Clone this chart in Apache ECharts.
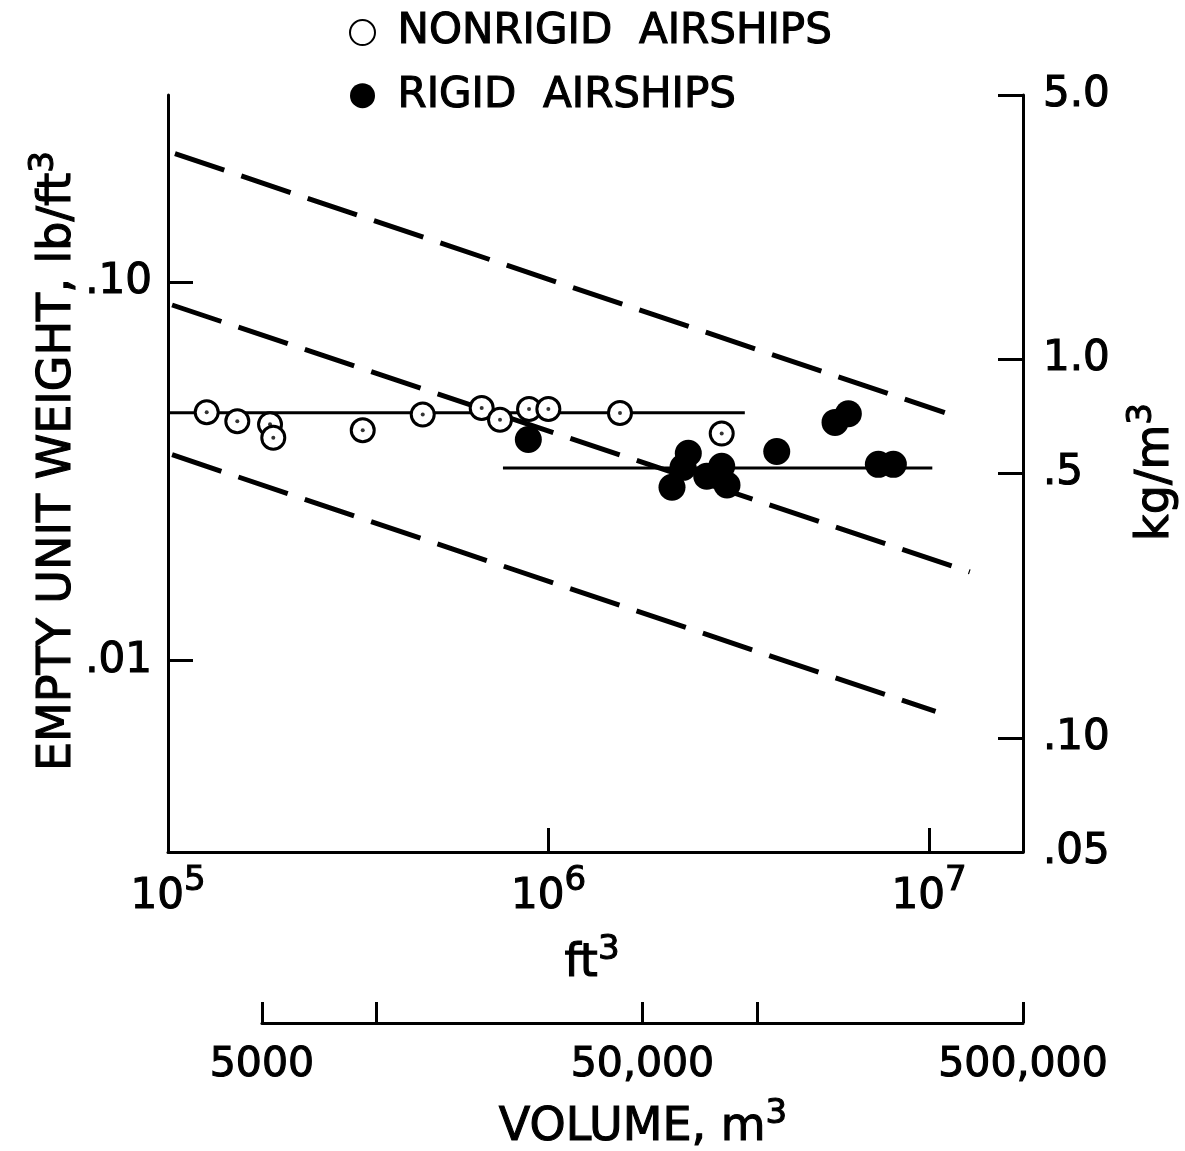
<!DOCTYPE html>
<html><head><meta charset="utf-8">
<script src="https://cdn.jsdelivr.net/npm/echarts@6/dist/echarts.min.js"></script>
<style>html,body{margin:0;padding:0;background:#fff}#c{width:1185px;height:1151px}</style>
</head><body><div id="c"></div>
<script>
// unit conversions
const LB_FT3_TO_KG_M3 = 16.01846;
const FT3_PER_M3 = 35.3147;

// nonrigid airships: volume (ft^3), empty unit weight (lb/ft^3)
const nonrigidVolume = [1.264e5, 1.521e5, 1.854e5, 1.891e5, 3.249e5, 4.671e5, 6.674e5, 7.456e5, 8.888e5, 9.99e5, 1.541e6, 2.852e6];
const nonrigidWeight = [0.0453, 0.0429, 0.0421, 0.0388, 0.0406, 0.0447, 0.0465, 0.0433, 0.0462, 0.0462, 0.0451, 0.0398];
// rigid airships
const rigidVolume = [8.85e5, 2.111e6, 2.257e6, 2.33e6, 2.605e6, 2.852e6, 2.945e6, 3.979e6, 5.662e6, 6.137e6, 7.359e6, 8.058e6];
const rigidWeight = [0.0384, 0.0287, 0.0324, 0.0353, 0.0307, 0.0326, 0.0291, 0.0357, 0.0426, 0.0449, 0.0330, 0.0330];

// mean lines
const nonrigidFitVolume = [1e5, 3.28e6];
const nonrigidFitWeight = [0.0452, 0.0452];
const rigidFitVolume = [7.59e5, 1.02e7];
const rigidFitWeight = [0.0323, 0.0323];

// dashed reference lines
const upperLineVolume = [1.043e5, 1.10e7];
const upperLineWeight = [0.2185, 0.0452];
const middleLineVolume = [1.025e5, 1.28e7];
const middleLineWeight = [0.0870, 0.01715];
const lowerLineVolume = [1.025e5, 1.04e7];
const lowerLineWeight = [0.0350, 0.00734];

// ticks and labels
const ftTicks = [1e5, 1e6, 1e7];
const ftTickExponents = ['5', '6', '7'];
const lbTicks = [0.01, 0.1];
const lbTickLabels = ['.01', '.10'];
const kgTicks = [0.05, 0.1, 0.5, 1, 5];
const kgTickLabels = ['.05', '.10', '.5', '1.0', '5.0'];
const m3Ticks = [5000, 10000, 50000, 100000, 500000];
const m3LabelValues = [5000, 50000, 500000];
const m3TickLabels = ['5000', '50,000', '500,000'];

const L = Math.log10;
const FONT = "'DejaVu Sans', sans-serif";
const TB = 1.1; // text outline to mimic the heavier lettering
const xMinLog = L(1e5);
const xMaxLog = L(500000 * FT3_PER_M3);
const yMinLog = L(0.05 / LB_FT3_TO_KG_M3);
const yMaxLog = L(5 / LB_FT3_TO_KG_M3);
const G = {left: 168, top: 95, width: 855, height: 757};
const m3Left = G.left + (L(m3Ticks[0] * FT3_PER_M3) - xMinLog) / (xMaxLog - xMinLog) * G.width;
const m3Right = G.left + (L(m3Ticks[m3Ticks.length - 1] * FT3_PER_M3) - xMinLog) / (xMaxLog - xMinLog) * G.width;

const pairs = (xs, ys) => xs.map((x, i) => [L(x), L(ys[i])]);
const lookup = (ticks, labels) => v => {
  for (let i = 0; i < ticks.length; i++) if (Math.abs(L(ticks[i]) - v) < 1e-6) return labels[i];
  return '';
};

const axisLine = {show: true, onZero: false, lineStyle: {color: '#000', width: 3}};
const tickStyle = {color: '#000', width: 3};
const dash = {color: '#000', width: 5, type: [52, 18], cap: 'butt'};
const labelText = {fontFamily: FONT, color: '#000', textBorderColor: '#000', textBorderWidth: TB};
const supRich = {
  n: {fontSize: 46, fontFamily: FONT, fill: '#000', stroke: '#000', lineWidth: TB, lineHeight: 46, verticalAlign: 'bottom'},
  s: {fontSize: 34, fontFamily: FONT, fill: '#000', stroke: '#000', lineWidth: TB, lineHeight: 34, verticalAlign: 'bottom', padding: [0, 0, 20, 0]}
};
const titleStyle = text => ({
  text: text, rich: supRich, fontSize: 46, fontFamily: FONT, fill: '#000',
  align: 'center', verticalAlign: 'middle', textAlign: 'center', textVerticalAlign: 'middle'
});

const chart = echarts.init(document.getElementById('c'), null, {renderer: 'canvas'});
chart.setOption({
  animation: false,
  backgroundColor: '#fff',
  textStyle: {fontFamily: FONT, color: '#000'},
  legend: {
    orient: 'vertical', left: 349, top: 11, padding: 0,
    itemWidth: 60, itemHeight: 25, itemGap: 20,
    textStyle: Object.assign({fontSize: 42, lineHeight: 42}, labelText),
    data: ['NONRIGID  AIRSHIPS', 'RIGID  AIRSHIPS']
  },
  grid: [
    {left: G.left, top: G.top, width: G.width, height: G.height},
    {left: m3Left, top: 1022, width: m3Right - m3Left, height: 1}
  ],
  xAxis: [
    {
      gridIndex: 0, type: 'value', position: 'bottom', min: xMinLog, max: xMaxLog,
      axisLine: axisLine, splitLine: {show: false},
      axisTick: {show: true, inside: true, length: 24, lineStyle: tickStyle, customValues: ftTicks.map(L)},
      axisLabel: {
        show: true, margin: 24, customValues: ftTicks.map(L),
        formatter: v => '{b|10}{s|' + lookup(ftTicks, ftTickExponents)(v) + '}',
        rich: {
          b: Object.assign({fontSize: 42, lineHeight: 42, verticalAlign: 'bottom'}, labelText),
          s: Object.assign({fontSize: 34, lineHeight: 34, verticalAlign: 'bottom', padding: [0, 0, 20, 0]}, labelText)
        }
      }
    },
    {
      gridIndex: 1, type: 'value', position: 'bottom', min: L(m3Ticks[0]), max: L(m3Ticks[m3Ticks.length - 1]),
      axisLine: axisLine, splitLine: {show: false},
      axisTick: {show: true, inside: true, length: 21, lineStyle: tickStyle, customValues: m3Ticks.map(L)},
      axisLabel: Object.assign({
        show: true, margin: 22, customValues: m3LabelValues.map(L), fontSize: 41,
        formatter: v => lookup(m3LabelValues, m3TickLabels)(v)
      }, labelText)
    }
  ],
  yAxis: [
    {
      gridIndex: 0, type: 'value', position: 'left', min: yMinLog, max: yMaxLog,
      axisLine: axisLine, splitLine: {show: false},
      axisTick: {show: true, inside: true, length: 25, lineStyle: tickStyle, customValues: lbTicks.map(L)},
      axisLabel: Object.assign({
        show: true, margin: 16, customValues: lbTicks.map(L), fontSize: 42,
        formatter: v => lookup(lbTicks, lbTickLabels)(v)
      }, labelText)
    },
    {
      gridIndex: 0, type: 'value', position: 'right', min: L(kgTicks[0]), max: L(kgTicks[kgTicks.length - 1]),
      axisLine: axisLine, splitLine: {show: false},
      axisTick: {show: true, inside: true, length: 25, lineStyle: tickStyle, customValues: kgTicks.map(L)},
      axisLabel: Object.assign({
        show: true, margin: 20, customValues: kgTicks.map(L), fontSize: 42,
        formatter: v => lookup(kgTicks, kgTickLabels)(v)
      }, labelText)
    },
    {gridIndex: 1, type: 'value', show: false}
  ],
  series: [
    {name: 'upper', type: 'line', data: pairs(upperLineVolume, upperLineWeight), symbol: 'none', lineStyle: dash, silent: true, z: 1},
    {name: 'middle', type: 'line', data: pairs(middleLineVolume, middleLineWeight), symbol: 'none', lineStyle: dash, silent: true, z: 1},
    {name: 'lower', type: 'line', data: pairs(lowerLineVolume, lowerLineWeight), symbol: 'none', lineStyle: dash, silent: true, z: 1},
    {name: 'nonrigid mean', type: 'line', data: pairs(nonrigidFitVolume, nonrigidFitWeight), symbol: 'none', lineStyle: {color: '#000', width: 3}, silent: true, z: 2},
    {name: 'rigid mean', type: 'line', data: pairs(rigidFitVolume, rigidFitWeight), symbol: 'none', lineStyle: {color: '#000', width: 3}, silent: true, z: 2},
    {name: 'NONRIGID  AIRSHIPS', type: 'scatter', data: pairs(nonrigidVolume, nonrigidWeight), symbol: 'circle', symbolSize: 23,
     itemStyle: {color: '#fff', borderColor: '#000', borderWidth: 3, opacity: 1}, z: 3},
    {name: 'nonrigid centre', type: 'scatter', data: pairs(nonrigidVolume, nonrigidWeight), symbol: 'circle', symbolSize: 4,
     itemStyle: {color: '#000'}, silent: true, z: 4},
    {name: 'RIGID  AIRSHIPS', type: 'scatter', data: pairs(rigidVolume, rigidWeight), symbol: 'circle', symbolSize: 27,
     itemStyle: {color: '#000', opacity: 1}, z: 5}
  ],
  graphic: [
    {type: 'text', x: 58, y: 461, rotation: Math.PI / 2, style: titleStyle('{n|EMPTY UNIT WEIGHT, lb/ft}{s|3}')},
    {type: 'text', x: 1156, y: 472, rotation: Math.PI / 2, style: titleStyle('{n|kg/m}{s|3}')},
    {type: 'text', x: 592, y: 964, style: titleStyle('{n|ft}{s|3}')},
    {type: 'text', x: 643, y: 1128, style: titleStyle('{n|VOLUME, m}{s|3}')}
  ]
});
</script></body></html>
